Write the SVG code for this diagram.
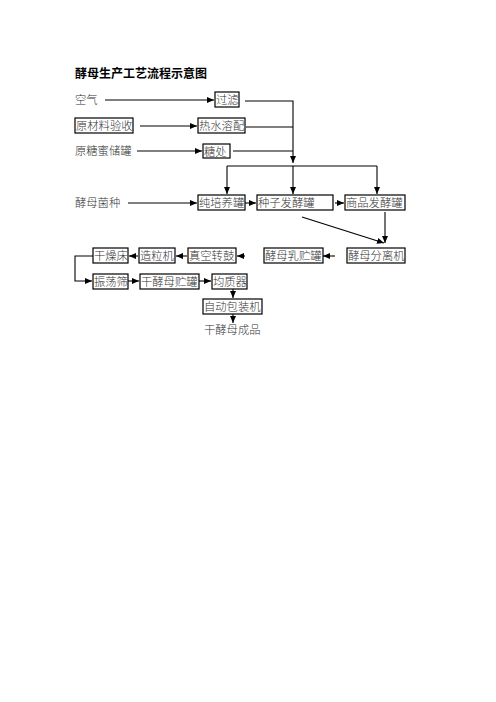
<svg xmlns="http://www.w3.org/2000/svg" width="496" height="702" viewBox="0 0 496 702">
<style>
.t{font-family:"Noto Sans CJK SC","Noto Sans CJK JP",sans-serif;font-size:11.3px;font-weight:300;fill:#333}
.ti{font-family:"Noto Sans CJK SC",sans-serif;font-size:12px;font-weight:bold;fill:#000}
.b{fill:#fff;stroke:#000;stroke-width:1.2}
.c{fill:none;stroke:#000;stroke-width:1.1}
.a{marker-end:url(#ah)}
</style>
<defs>
<marker id="ah" markerUnits="userSpaceOnUse" markerWidth="7" markerHeight="6" refX="7" refY="3" orient="auto">
<path d="M0,0 L7,3 L0,6 z" fill="#000"/>
</marker>
</defs>
<rect width="496" height="702" fill="#fff"/>
<text class="ti" x="75" y="78">酵母生产工艺流程示意图</text>

<g id="connectors">
<line class="c a" x1="105" y1="100" x2="214" y2="100"/>
<line class="c a" x1="140" y1="126" x2="197" y2="126"/>
<line class="c a" x1="137" y1="151" x2="202" y2="151"/>
<polyline class="c a" points="245,101 293,101 293,163"/>
<line class="c" x1="246" y1="127" x2="293" y2="127"/>
<line class="c" x1="233" y1="151" x2="293" y2="151"/>
<line class="c" x1="227" y1="166" x2="377" y2="166"/>
<line class="c a" x1="227" y1="166" x2="227" y2="194"/>
<line class="c a" x1="293" y1="166" x2="293" y2="194"/>
<line class="c a" x1="377" y1="166" x2="377" y2="194"/>
<line class="c a" x1="128" y1="203" x2="197" y2="203"/>
<line class="c a" x1="245" y1="203" x2="256" y2="203"/>
<line class="c a" x1="335" y1="203" x2="344" y2="203"/>
<line class="c a" x1="385" y1="212" x2="385" y2="243"/>
<line class="c a" x1="302" y1="217" x2="384" y2="243"/>
<line class="c a" x1="335" y1="256" x2="323" y2="256"/>
<line class="c a" x1="245" y1="256" x2="237" y2="256"/>
<line class="c a" x1="187" y1="256" x2="176" y2="256"/>
<line class="c a" x1="138" y1="256" x2="129" y2="256"/>
<polyline class="c a" points="93,256 75,256 75,281 92,281"/>
<line class="c a" x1="128" y1="281" x2="139" y2="281"/>
<line class="c a" x1="199" y1="281" x2="211" y2="281"/>
<line class="c a" x1="233" y1="289" x2="233" y2="298"/>
<line class="c a" x1="233" y1="314" x2="233" y2="323"/>
</g>

<g id="n-air"><text class="t" x="75" y="104">空气</text></g>
<g id="n-filter"><rect class="b" x="215" y="92" width="24" height="15"/><text class="t" x="216" y="104">过滤</text></g>
<g id="n-raw"><rect class="b" x="75" y="118" width="58" height="15"/><text class="t" x="76" y="130">原材料验收</text></g>
<g id="n-hotwater"><rect class="b" x="198" y="118" width="47" height="15"/><text class="t" x="199" y="130">热水溶配</text></g>
<g id="n-molasses"><text class="t" x="75" y="155">原糖蜜储罐</text></g>
<g id="n-sugar"><rect class="b" x="203" y="144" width="27" height="14"/><text class="t" x="204" y="155.5">糖处</text></g>
<g id="n-strain"><text class="t" x="75" y="207">酵母菌种</text></g>
<g id="n-pure"><rect class="b" x="198" y="195" width="47" height="15"/><text class="t" x="199" y="207">纯培养罐</text></g>
<g id="n-seed"><rect class="b" x="257" y="195" width="76" height="15"/><text class="t" x="258" y="207">种子发酵罐</text></g>
<g id="n-comm"><rect class="b" x="345" y="195" width="60" height="15"/><text class="t" x="346" y="207">商品发酵罐</text></g>
<g id="n-sep"><rect class="b" x="347" y="248" width="58" height="15"/><text class="t" x="348" y="260">酵母分离机</text></g>
<g id="n-milk"><rect class="b" x="264" y="248" width="59" height="15"/><text class="t" x="265" y="260">酵母乳贮罐</text></g>
<g id="n-drum"><rect class="b" x="188" y="248" width="48" height="15"/><text class="t" x="189" y="260">真空转鼓</text></g>
<g id="n-gran"><rect class="b" x="139" y="248" width="36" height="15"/><text class="t" x="140" y="260">造粒机</text></g>
<g id="n-dryer"><rect class="b" x="93" y="248" width="35" height="15"/><text class="t" x="94" y="260">干燥床</text></g>
<g id="n-sieve"><rect class="b" x="93" y="274" width="35" height="15"/><text class="t" x="94" y="286">振荡筛</text></g>
<g id="n-drytank"><rect class="b" x="140" y="274" width="59" height="15"/><text class="t" x="141" y="286">干酵母贮罐</text></g>
<g id="n-homo"><rect class="b" x="212" y="274" width="35" height="15"/><text class="t" x="213" y="286">均质器</text></g>
<g id="n-pack"><rect class="b" x="203" y="299" width="59" height="15"/><text class="t" x="204" y="311">自动包装机</text></g>
<g id="n-product"><text class="t" x="204" y="334">干酵母成品</text></g>
</svg>
